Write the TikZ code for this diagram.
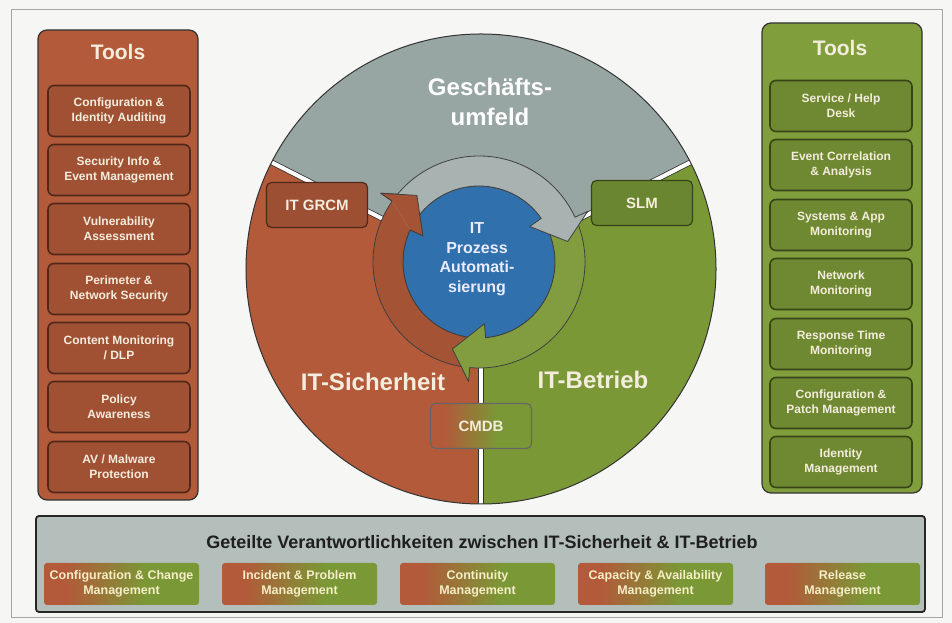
\documentclass[tikz,border=0pt]{standalone}
\usepackage{fontspec}
\setmainfont{Liberation Sans}
\usetikzlibrary{positioning}

\definecolor{paper}{RGB}{246,246,244}
\definecolor{secbrown}{RGB}{178,90,58}
\definecolor{opsgreen}{RGB}{122,152,54}
\definecolor{opslight}{RGB}{128,158,60}
\definecolor{bizgray}{RGB}{152,166,163}
\definecolor{autoblue}{RGB}{48,112,172}
\definecolor{creamtext}{RGB}{244,236,220}
\definecolor{bargray}{RGB}{180,191,188}

\pgfdeclarehorizontalshading{secops}{100bp}{color(0bp)=(secbrown); color(32bp)=(secbrown);
  color(58bp)=(opsgreen); color(100bp)=(opsgreen)}

% one arrow of the inner cycle: colour, tail angle, head angle
\newcommand{\cyclearrow}[3]{%
  \fill[#1] ({#2-5}:106) arc[start angle={#2-5}, end angle={#3-5}, radius=106]
    -- ({#3-5}:120) -- ({#3-17}:91) -- ({#3+5}:62) -- ({#3+5}:76)
    arc[start angle={#3+5}, end angle={#2+5}, radius=76] -- cycle;
  \draw[ringline] ({#2-5}:106) arc[start angle={#2-5}, end angle={#3-5}, radius=106]
    -- ({#3-5}:120) -- ({#3-17}:91) -- ({#3+5}:62) -- ({#3+5}:76)
    arc[start angle={#3+5}, end angle={#2+5}, radius=76];
}

\begin{document}
\begin{tikzpicture}[x=1pt, y=1pt,
  panel/.style={draw=black!80, line width=1.2pt, rounded corners=9pt,
    minimum width=160pt, minimum height=470pt},
  toolstitle/.style={text=creamtext, font=\bfseries\fontsize{21}{25}\selectfont},
  toolbox/.style={draw=#1!45!black, fill=#1!90!black, line width=1.6pt,
    rounded corners=6pt, minimum width=142pt, minimum height=51pt, inner sep=2pt,
    align=center, text=creamtext, font=\bfseries\fontsize{12}{15}\selectfont},
  tagbox/.style={draw=#1!45!black, fill=#1!88!black, line width=1.2pt,
    rounded corners=5pt, minimum width=101pt, minimum height=45pt,
    text=creamtext, font=\bfseries\fontsize{15}{18}\selectfont},
  sharebox/.style={shading=secops, rounded corners=3pt, minimum width=155pt,
    minimum height=42pt, inner sep=1pt, align=center, text=creamtext!90!yellow,
    font=\bfseries\fontsize{12.5}{15.5}\selectfont},
  biglabel/.style={text=white, align=center, font=\bfseries\fontsize{24}{30}\selectfont},
  gapline/.style={draw=black!80, line width=0.8pt, double=white, double distance=4pt},
  ringline/.style={draw=black!75, line width=0.8pt, line join=round}]

  % Page
  \path[use as bounding box, fill=paper] (0,0) rectangle (952,623);
  \draw[black!35, line width=0.8pt] (11,6) rectangle (942,614);

  % Left tools (IT-Sicherheit)
  \node[panel, fill=secbrown] (lpanel) at (118,358) {};
  \node[toolstitle] (ltitle) at (118,571) {Tools};
  \node[toolbox=secbrown] (lcfg) at (119,512) {Configuration \&\\Identity Auditing};
  \node[toolbox=secbrown] (lsiem) at (119,453) {Security Info \&\\Event Management};
  \node[toolbox=secbrown] (lvuln) at (119,394) {Vulnerability\\Assessment};
  \node[toolbox=secbrown] (lperim) at (119,334) {Perimeter \&\\Network Security};
  \node[toolbox=secbrown] (ldlp) at (119,275) {Content Monitoring\\/ DLP};
  \node[toolbox=secbrown] (lpolicy) at (119,216) {Policy\\Awareness};
  \node[toolbox=secbrown] (lav) at (119,156) {AV / Malware\\Protection};

  % Right tools (IT-Betrieb)
  \node[panel, fill=opslight] (rpanel) at (842,365) {};
  \node[toolstitle] (rtitle) at (840,575) {Tools};
  \node[toolbox=opsgreen] (rdesk) at (841,517) {Service / Help\\Desk};
  \node[toolbox=opsgreen] (revent) at (841,458) {Event Correlation\\\& Analysis};
  \node[toolbox=opsgreen] (rsys) at (841,398) {Systems \& App\\Monitoring};
  \node[toolbox=opsgreen] (rnet) at (841,339) {Network\\Monitoring};
  \node[toolbox=opsgreen] (rresp) at (841,279) {Response Time\\Monitoring};
  \node[toolbox=opsgreen] (rpatch) at (841,220) {Configuration \&\\Patch Management};
  \node[toolbox=opsgreen] (rident) at (841,161) {Identity\\Management};

  % Big circle, three sectors
  \coordinate (B) at (481,354);
  \fill[bizgray] (B) -- ++(27:235) arc[start angle=27, end angle=153, radius=235] -- cycle;
  \fill[secbrown] (B) -- ++(153:235) arc[start angle=153, end angle=270, radius=235] -- cycle;
  \fill[opsgreen] (B) -- ++(270:235) arc[start angle=270, end angle=387, radius=235] -- cycle;
  \draw[gapline] ([shift={(153:95)}]B) -- ([shift={(153:235)}]B);
  \draw[gapline] ([shift={(27:95)}]B) -- ([shift={(27:235)}]B);
  \draw[gapline] ([shift={(270:95)}]B) -- ([shift={(270:235)}]B);
  \draw[black!80, line width=1pt] (B) circle[radius=235];

  % Inner cycle
  \begin{scope}[shift={(479,361)}]
    \filldraw[fill=autoblue, ringline] (0,0) circle[radius=76];
    \cyclearrow{secbrown!92!black}{270}{150}
    \cyclearrow{opsgreen!95!white}{30}{-90}
    \cyclearrow{bizgray!85!white}{150}{30}
    % brown head lies on the grey tail
    \fill[secbrown!92!black] (145:106) -- (145:120) -- (133:91) -- (155:62) -- (155:76) -- cycle;
    \draw[ringline] (145:106) -- (145:120) -- (133:91) -- (155:62) -- (155:76);
    \node[align=center, text=white!92!blue, font=\bfseries\fontsize{16}{19.5}\selectfont]
      (auto) at (-2,3) {IT\\Prozess\\Automati-\\sierung};
  \end{scope}

  % Sector labels
  \node[biglabel] (biz) at (490,521) {Geschäfts-\\umfeld};
  \node[biglabel, text=creamtext] (sec) at (373,241) {IT-Sicherheit};
  \node[biglabel, text=creamtext] (ops) at (593,243) {IT-Betrieb};

  % Tags on the borders
  \node[tagbox=secbrown] (grcm) at (317,418) {IT GRCM};
  \node[tagbox=opsgreen] (slm) at (642,420) {SLM};
  \node[tagbox=secbrown, shading=secops, draw=black!60] (cmdb) at (481,197) {CMDB};

  % Shared responsibilities
  \node[draw=black!85, fill=bargray, line width=1.8pt, rounded corners=3pt,
    minimum width=889pt, minimum height=96pt] (sharebar) at (480.5,59) {};
  \node[text=black!88, font=\bfseries\fontsize{18}{22}\selectfont] (shared) at (482,81)
    {Geteilte Verantwortlichkeiten zwischen IT-Sicherheit \& IT-Betrieb};
  \node[sharebox] (shchange) at (121.5,39) {Configuration \& Change\\Management};
  \node[sharebox] (shincident) at (299.5,39) {Incident \& Problem\\Management};
  \node[sharebox] (shcont) at (477.5,39) {Continuity\\Management};
  \node[sharebox] (shcap) at (655.5,39) {Capacity \& Availability\\Management};
  \node[sharebox] (shrelease) at (842.5,39) {Release\\Management};
\end{tikzpicture}
\end{document}
